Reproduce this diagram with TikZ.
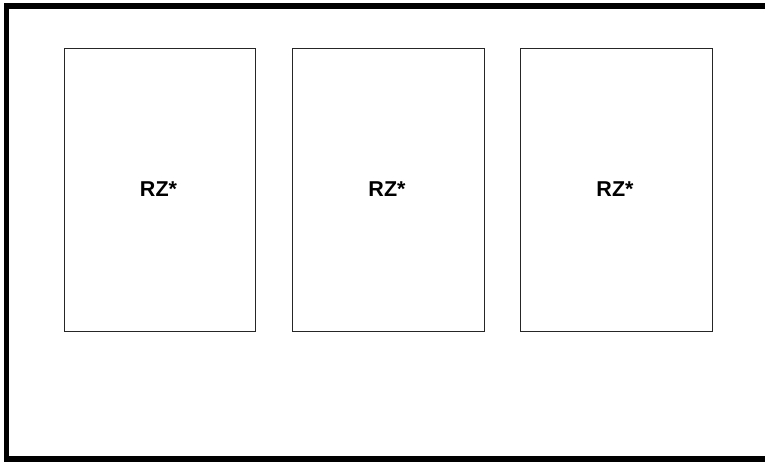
\documentclass[tikz,border=0pt]{standalone}
\usepackage{fontspec}
\setmainfont{Liberation Sans}
\begin{document}
\begin{tikzpicture}[x=1pt,y=-1pt,
  panel/.style={draw=black!85,line width=1pt,inner sep=0pt},
  lbl/.style={font=\bfseries\fontsize{21.5pt}{26pt}\selectfont}]
\useasboundingbox (0,0) rectangle (765,461);
\draw[line width=5.5pt] (770,6) -- (6.5,6) -- (6.5,459) -- (770,459);
\node[panel,minimum width=191pt,minimum height=283pt] (b1) at (159.5,189.5) {};
\node[panel,minimum width=192pt,minimum height=283pt] (b2) at (388,189.5) {};
\node[panel,minimum width=192pt,minimum height=283pt] (b3) at (616,189.5) {};
\node[lbl] (t1) at ([xshift=-1pt]b1.center) {RZ*};
\node[lbl] (t2) at ([xshift=-1pt]b2.center) {RZ*};
\node[lbl] (t3) at ([xshift=-1pt]b3.center) {RZ*};
\end{tikzpicture}
\end{document}
